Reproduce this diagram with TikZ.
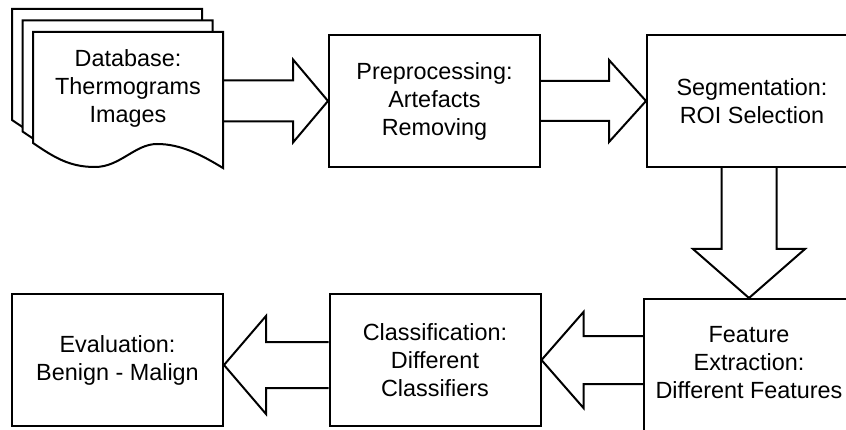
\documentclass[tikz,border=0pt]{standalone}
\usepackage{fontspec}
\setmainfont{Liberation Sans}
\usetikzlibrary{calc}

\tikzset{
	blockbox/.style={draw, line width=2pt, minimum width=211pt, minimum height=132pt, inner sep=0pt, align=center, font=\fontsize{23.4}{28}\selectfont},
	blockarrow/.style={draw, line width=2pt, line join=miter},
	sheet/.style={draw, line width=2pt, fill=white}
}

% from, to, shaft half width, head half width, head length
\newcommand{\bigarrow}[5]{
	\coordinate (hb) at ($(#2)!#5!(#1)$);
	\draw[blockarrow] ($(#1)!#3!90:(#2)$) -- ($(hb)!#3!90:(#2)$) -- ($(hb)!#4!90:(#2)$) -- (#2)
		-- ($(hb)!#4!-90:(#2)$) -- ($(hb)!#3!-90:(#2)$) -- ($(#1)!#3!-90:(#2)$);
}

\begin{document}
\begin{tikzpicture}[x=1pt, y=-1pt]
	\path[use as bounding box, clip] (0,0) rectangle (846,430);

	% stack of documents
	\foreach \dx/\dy in {21/23, 10.5/11.5, 0/0}
		\draw[sheet, shift={(-\dx,-\dy)}] (33,32) -- (223,32) -- (223,168)
			.. controls (200,154) and (180,144) .. (157,144)
			.. controls (135,144) and (120,167) .. (95,167)
			.. controls (70,167) and (55,158) .. (33,143) -- cycle;

	\node[blockbox, draw=none, minimum width=190pt, minimum height=0pt] (db) at (128,88) {Database:\\Thermograms\\Images};
	\node[blockbox] (pre) at (434.5,101) {Preprocessing:\\Artefacts\\Removing};
	\node[blockbox, minimum width=210pt] (seg) at (752,101) {Segmentation:\\ROI Selection};
	\node[blockbox, minimum width=210pt, minimum height=150pt, text depth=24pt] (fe) at (749,374) {Feature\\Extraction:\\Different Features};
	\node[blockbox] (cls) at (435,360) {Classification:\\Different\\Classifiers};
	\node[blockbox] (eval) at (117.5,360) {Evaluation:\\Benign - Malign};

	\coordinate (dbout) at (db.east |- pre.west);
	\coordinate (segout) at (seg.south -| fe.north);
	\coordinate (feout) at (fe.west |- cls.east);
	\coordinate (clsout) at ([yshift=-5pt]cls.west);
	\coordinate (evalin) at ([yshift=-5pt]eval.east);

	\bigarrow{dbout}{pre.west}{20.5pt}{41.5pt}{35pt}
	\bigarrow{pre.east}{seg.west}{20pt}{41pt}{37pt}
	\bigarrow{segout}{fe.north}{27.5pt}{56pt}{49pt}
	\bigarrow{feout}{cls.east}{24pt}{48pt}{42pt}
	\bigarrow{clsout}{evalin}{23pt}{49pt}{42pt}
\end{tikzpicture}
\end{document}
